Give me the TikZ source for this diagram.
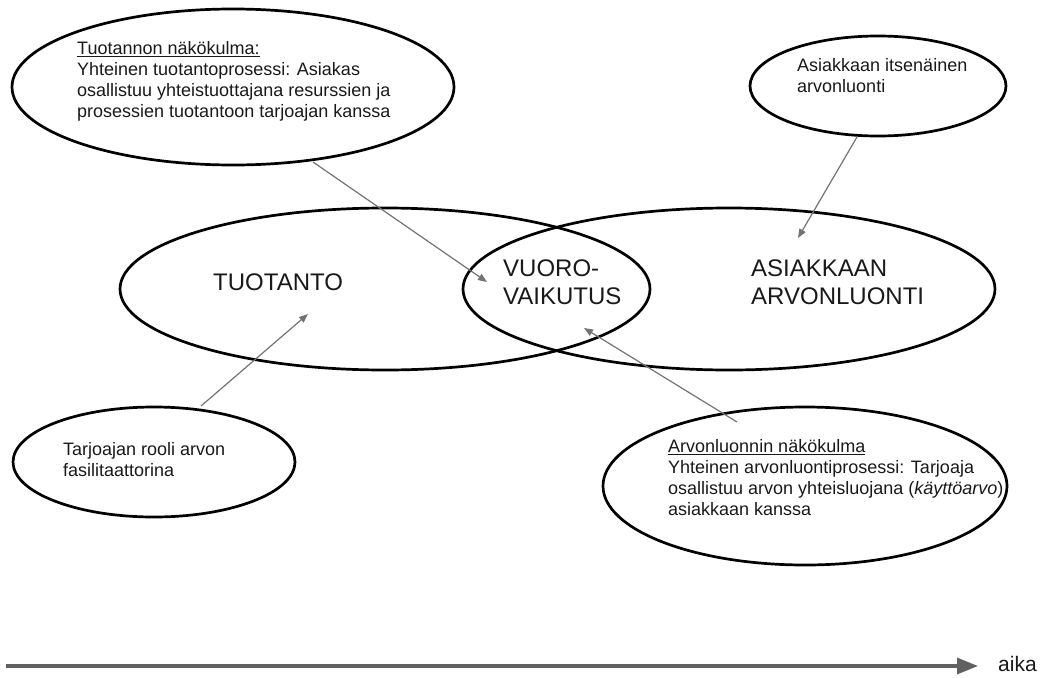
\documentclass[tikz,border=0pt]{standalone}
\usepackage{fontspec}
\setmainfont{Liberation Sans}
\usetikzlibrary{shapes.geometric,arrows.meta}

\begin{document}
\begin{tikzpicture}[x=1pt,y=-1pt,
  bubble/.style={draw=black, line width=2.7pt, ellipse, inner sep=0pt},
  smalltext/.style={anchor=north west, align=left, inner sep=0pt,
    font=\fontsize{18}{21}\selectfont, text=black!90},
  bigtext/.style={anchor=north west, align=left, inner sep=0pt,
    font=\fontsize{24}{27.5}\selectfont, text=black!90},
  link/.style={draw=black!55, line width=1.2pt,
    -{Triangle[length=9pt,width=7pt]}},
  timeline/.style={draw=black!62, line width=3.2pt,
    -{Triangle[length=21pt,width=16pt]}}
]
\useasboundingbox (0,0) rectangle (1046,677);

% main areas
\node[bubble, minimum width=530pt, minimum height=162pt] (tuo) at (385,289) {};
\node[bubble, minimum width=532pt, minimum height=162pt] (asi) at (729,289) {};

% perspectives
\node[bubble, minimum width=442pt, minimum height=156pt] (tl) at (233,87) {};
\node[bubble, minimum width=256pt, minimum height=100pt] (tr) at (878,86) {};
\node[bubble, minimum width=282pt, minimum height=110pt] (bl) at (154,462) {};
\node[bubble, minimum width=404pt, minimum height=158pt] (br) at (805,486) {};

% texts
\node[bigtext] (tuotxt) at (213,274) {TUOTANTO};
\node[bigtext] (vuotxt) at (503,260) {VUORO-\\VAIKUTUS};
\node[bigtext] (asitxt) at (751,260) {ASIAKKAAN\\ARVONLUONTI};

\node[smalltext] (tltxt) at (77,41) {\underline{Tuotannon näkökulma:}\\
  Yhteinen tuotantoprosessi: Asiakas\\
  osallistuu yhteistuottajana resurssien ja\\
  prosessien tuotantoon tarjoajan kanssa};
\node[smalltext] (trtxt) at (797,58) {Asiakkaan itsenäinen\\arvonluonti};
\node[smalltext] (bltxt) at (63,442) {Tarjoajan rooli arvon\\fasilitaattorina};
\node[smalltext] (brtxt) at (668,439) {\underline{Arvonluonnin näkökulma}\\
  Yhteinen arvonluontiprosessi: Tarjoaja\\
  osallistuu arvon yhteisluojana (\textit{käyttöarvo})\\
  asiakkaan kanssa};

% connector end points
\coordinate (tlout) at (313,162);
\coordinate (tlin)  at (487,282);
\coordinate (trout) at (857,137);
\coordinate (trin)  at (798,238);
\coordinate (blout) at (201,406);
\coordinate (blin)  at (308,314);
\coordinate (brout) at (737,422);
\coordinate (brin)  at (584,328);

\draw[link] (tlout) -- (tlin);
\draw[link] (trout) -- (trin);
\draw[link] (blout) -- (blin);
\draw[link] (brout) -- (brin);

% time axis
\node[anchor=west, inner sep=0pt, font=\fontsize{21}{24}\selectfont, text=black!90] (aika) at (998,664) {aika};
\coordinate (t0) at (6,666);
\draw[timeline] (t0) -- ([xshift=-20pt]aika.west |- t0);
\end{tikzpicture}
\end{document}
